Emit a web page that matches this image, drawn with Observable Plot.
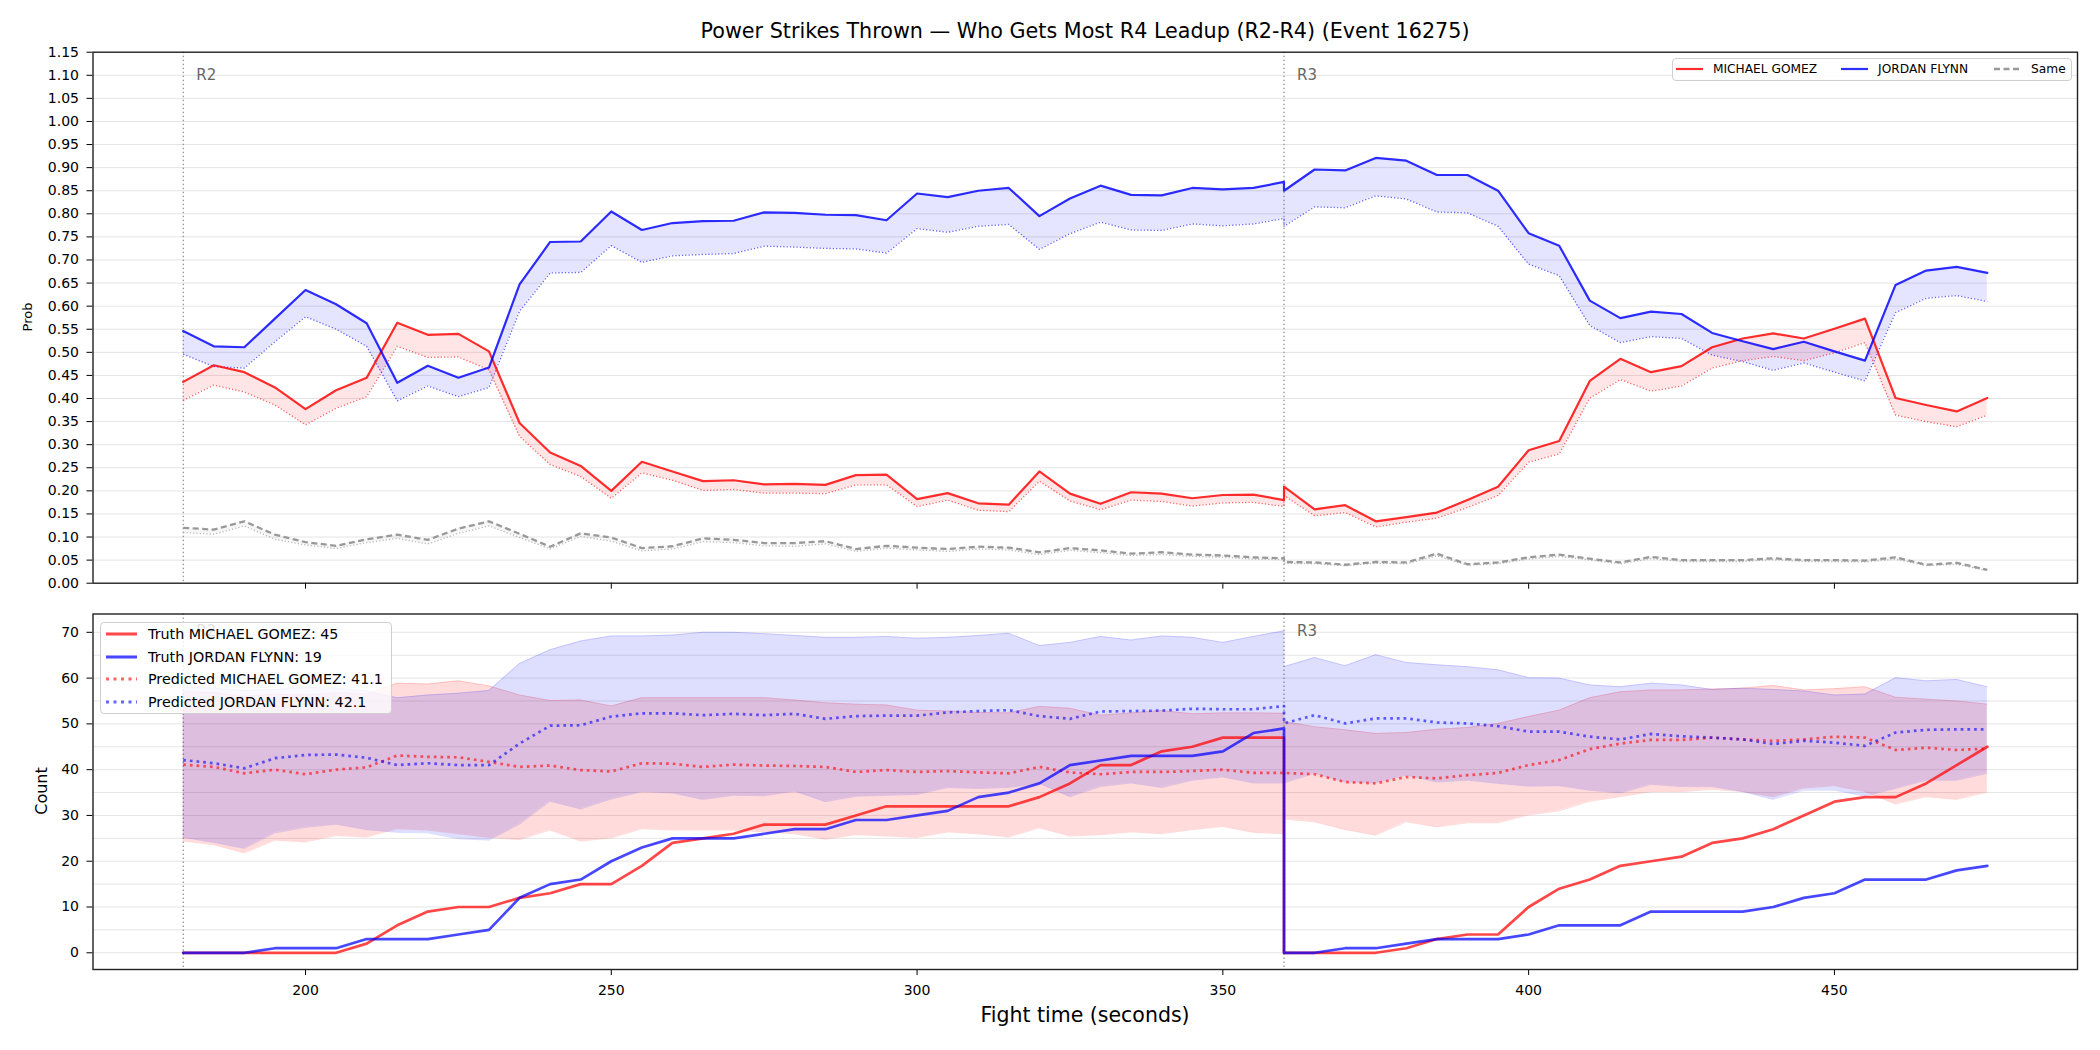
<!DOCTYPE html>
<html><head><meta charset="utf-8">
<script src="https://cdn.jsdelivr.net/npm/d3@7"></script>
<script src="https://cdn.jsdelivr.net/npm/@observablehq/plot@0.6"></script>
<style>
html,body{margin:0;padding:0;background:#fff;overflow:hidden}
#root{position:relative;width:2100px;height:1050px;font-family:"DejaVu Sans",sans-serif;color:#000;overflow:hidden;background:#fff}
.abs{position:absolute}
.rot{position:absolute;transform:translate(-50%,-50%) rotate(-90deg);white-space:nowrap}
.ctr{position:absolute;transform:translate(-50%,-50%);white-space:nowrap}
.leg{position:absolute;box-sizing:border-box;border:1px solid #cfcfcf;border-radius:4px;background:rgba(255,255,255,0.8)}
.row{display:flex;align-items:center;white-space:nowrap}
.row svg{display:block;flex:none}
</style></head><body><div id="root"></div>
<script>
// ---------- data ----------
const times = [180,185,190,195,200,205,210,215,220,225,230,235,240,245,250,255,260,265,270,275,280,285,290,295,300,305,310,315,320,325,330,335,340,345,350,355,360,
               360,365,370,375,380,385,390,395,400,405,410,415,420,425,430,435,440,445,450,455,460,465,470,475];

const probRed  = [.436,.472,.457,.424,.377,.418,.445,.564,.538,.540,.502,.347,.283,.254,.200,.263,.242,.221,.223,.214,.215,.213,.234,.235,.182,.195,.173,.170,.242,.194,.172,.197,.194,.184,.191,.192,.180,
                  .209,.160,.169,.134,.143,.153,.180,.209,.288,.308,.438,.486,.457,.470,.511,.530,.541,.530,.551,.573,.401,.386,.372,.401];
const predRed  = [.396,.429,.414,.386,.343,.379,.404,.513,.489,.490,.462,.318,.257,.231,.184,.239,.223,.201,.203,.195,.195,.194,.213,.213,.166,.180,.158,.155,.221,.178,.159,.180,.177,.167,.174,.175,.166,
                  .190,.146,.153,.122,.132,.141,.164,.190,.262,.280,.401,.441,.416,.427,.466,.482,.491,.482,.499,.521,.364,.350,.339,.364];
const probBlue = [.546,.513,.511,.573,.635,.604,.563,.434,.471,.445,.467,.647,.739,.740,.805,.765,.780,.784,.785,.803,.802,.798,.797,.786,.844,.836,.850,.856,.795,.833,.861,.841,.840,.856,.853,.856,.869,
                  .850,.896,.894,.921,.915,.884,.884,.850,.758,.731,.612,.574,.588,.583,.542,.524,.507,.523,.502,.482,.646,.677,.685,.672];
const predBlue = [.496,.469,.466,.523,.577,.550,.513,.395,.427,.404,.424,.589,.672,.673,.731,.695,.709,.712,.714,.730,.728,.725,.724,.715,.768,.760,.773,.777,.723,.757,.782,.765,.764,.778,.774,.778,.790,
                  .773,.815,.813,.839,.832,.804,.802,.773,.691,.666,.558,.521,.534,.530,.494,.480,.461,.477,.457,.438,.586,.617,.623,.610];
const probSame = [.120,.116,.134,.105,.089,.081,.095,.105,.094,.118,.134,.107,.079,.108,.099,.076,.080,.097,.094,.087,.087,.091,.074,.081,.077,.074,.079,.077,.067,.076,.071,.064,.067,.062,.060,.056,.054,
                  .046,.045,.040,.046,.045,.064,.041,.045,.056,.062,.053,.045,.057,.050,.050,.050,.054,.050,.050,.049,.056,.040,.044,.029];
const predSame = [.110,.106,.124,.095,.083,.075,.088,.097,.085,.108,.124,.099,.074,.101,.091,.070,.074,.090,.088,.081,.080,.085,.069,.076,.072,.069,.074,.072,.062,.071,.066,.060,.062,.058,.056,.052,.051,
                  .043,.042,.038,.043,.042,.059,.039,.042,.052,.058,.050,.042,.053,.047,.047,.047,.051,.047,.047,.046,.052,.038,.041,.027];

const truthRed  = [0,0,0,0,0,0,2,6,9,10,10,12,13,15,15,19,24,25,26,28,28,28,30,32,32,32,32,32,34,37,41,41,44,45,47,47,47,
                   0,0,0,0,1,3,4,4,10,14,16,19,20,21,24,25,27,30,33,34,34,37,41,45];
const truthBlue = [0,0,0,1,1,1,3,3,3,4,5,12,15,16,20,23,25,25,25,26,27,27,29,29,30,31,34,35,37,41,42,43,43,43,44,48,49,
                   0,0,1,1,2,3,3,3,4,6,6,6,9,9,9,9,10,12,13,16,16,16,18,19];
const predCountRed  = [41.1,40.6,39.2,40.0,39.0,40.0,40.5,43.1,42.8,42.7,41.7,40.6,40.9,39.9,39.6,41.4,41.3,40.6,41.1,40.9,40.8,40.6,39.5,39.9,39.5,39.7,39.4,39.2,40.6,39.4,39.0,39.5,39.5,39.7,40.0,39.3,39.3,
                       39.3,39.0,37.3,37.0,38.4,38.1,38.8,39.3,41.0,42.1,44.5,45.7,46.5,46.5,47.0,46.6,46.3,46.6,47.2,47.0,44.3,44.8,44.3,44.6];
const predCountBlue = [42.1,41.4,40.3,42.5,43.2,43.3,42.6,41.0,41.4,41.0,41.0,45.7,49.6,49.7,51.6,52.3,52.3,51.9,52.2,51.9,52.2,51.1,51.7,51.8,51.8,52.5,52.8,53.0,51.7,51.1,52.7,52.8,52.9,53.3,53.2,53.2,53.9,
                       50.1,51.9,50.1,51.2,51.2,50.3,50.1,49.5,48.3,48.3,47.2,46.6,47.8,47.3,47.0,46.6,45.6,46.3,45.9,45.2,48.1,48.7,48.8,48.8];
const bandRedHi  = [57.0,56.8,56.0,56.5,56.3,56.8,56.5,58.9,58.7,59.4,58.3,56.3,55.1,55.2,53.9,55.7,55.7,55.7,55.7,55.7,55.2,54.6,54.3,54.1,53.0,52.8,52.5,52.4,53.8,53.4,51.9,52.4,52.9,52.2,52.4,52.4,52.3,
                    50.5,49.4,48.7,47.9,48.1,48.8,49.2,50.1,51.6,53.0,55.7,57.0,57.4,57.4,57.6,57.8,58.4,57.4,57.7,58.1,55.8,55.4,55.0,54.3];
const bandRedLo  = [24.4,23.6,21.8,24.6,24.2,25.6,25.3,27.1,26.8,26.0,25.2,24.7,26.8,24.4,25.1,27.1,26.8,26.8,26.8,26.4,26.0,24.8,25.8,25.5,25.2,26.4,26.0,25.3,27.3,25.5,25.8,26.4,26.0,26.9,27.6,26.3,26.0,
                    29.2,28.6,26.9,25.7,28.6,27.5,28.4,28.4,30.1,31.0,33.1,34.1,35.2,35.2,35.7,35.2,34.1,36.0,36.5,35.2,32.5,34.1,33.5,35.1];
const bandBlueHi = [58.0,57.8,57.3,57.5,58.0,57.8,57.2,55.7,56.3,56.7,57.3,63.2,66.2,68.1,69.2,69.2,69.4,70.0,70.0,69.7,69.3,68.9,68.9,69.1,68.7,68.9,69.3,69.8,67.1,67.8,69.1,68.3,69.2,68.9,67.8,69.1,70.3,
                    62.5,64.5,62.7,65.1,63.4,62.9,62.5,61.8,60.1,60.0,58.5,58.1,58.9,58.5,57.5,57.8,57.5,57.2,56.3,56.5,60.1,59.4,59.7,58.1];
const bandBlueLo = [25.2,24.1,22.8,26.2,27.4,28.1,26.9,26.3,26.2,24.9,24.6,28.1,33.1,31.4,33.6,35.2,34.9,33.5,34.4,34.3,35.3,33.0,34.2,34.4,34.6,36.1,35.9,36.1,37.0,34.1,36.3,37.1,36.1,37.7,38.4,37.1,37.1,
                    37.1,39.2,37.3,37.1,38.8,37.3,37.7,37.0,36.4,36.5,35.5,34.9,36.8,36.3,36.3,35.2,33.5,35.5,35.5,34.2,35.9,37.7,37.7,39.2];

const roundStarts = [180, 360];
const roundNames  = ["R2", "R3"];
const xTicks = [200, 250, 300, 350, 400, 450];
const probTicks = [0,0.05,0.10,0.15,0.20,0.25,0.30,0.35,0.40,0.45,0.50,0.55,0.60,0.65,0.70,0.75,0.80,0.85,0.90,0.95,1.00,1.05,1.10,1.15];
const countTicks = [0,10,20,30,40,50,60,70];
const countGrid = [0,5,10,15,20,25,30,35,40,45,50,55,60,65,70];

const fighterA = "MICHAEL GOMEZ", fighterB = "JORDAN FLYNN";
const title = "Power Strikes Thrown — Who Gets Most R4 Leadup (R2-R4) (Event 16275)";

// ---------- build ----------
const rows = times.map((t, i) => ({
  t, probRed: probRed[i], predRed: predRed[i], probBlue: probBlue[i], predBlue: predBlue[i],
  probSame: probSame[i], predSame: predSame[i],
  truthRed: truthRed[i], truthBlue: truthBlue[i], pcRed: predCountRed[i], pcBlue: predCountBlue[i],
  rHi: bandRedHi[i], rLo: bandRedLo[i], bHi: bandBlueHi[i], bLo: bandBlueLo[i]
}));

const RED = "#ff0000", BLUE = "#0000ff";
const xDomain = [165.25, 489.75];
const baseStyle = {fontFamily: "DejaVu Sans, sans-serif", fontSize: "14px", background: "transparent", overflow: "visible", color: "#000"};

const topPlot = Plot.plot({
  width: 2100, height: 600,
  marginLeft: 92.5, marginRight: 23, marginTop: 51.7, marginBottom: 17.3,
  style: baseStyle,
  x: {domain: xDomain, ticks: xTicks, tickSize: 6, tickFormat: () => "", label: null},
  y: {domain: [0, 1.15], ticks: probTicks, tickSize: 6, tickPadding: 8, tickFormat: d3.format(".2f"), label: null},
  marks: [
    Plot.ruleY(probTicks.slice(1, -1), {stroke: "#e4e4e4", strokeWidth: 1}),
    Plot.ruleX(roundStarts, {stroke: "#777", strokeWidth: 1, strokeDasharray: "1.5,2.5"}),
    Plot.text(roundStarts, {x: d => d, y: 1.10, text: (d, i) => roundNames[i], dx: 13, textAnchor: "start", fill: "#666", fontSize: 15}),
    Plot.areaY(rows, {x: "t", y1: "predRed", y2: "probRed", fill: RED, fillOpacity: 0.1}),
    Plot.areaY(rows, {x: "t", y1: "predBlue", y2: "probBlue", fill: BLUE, fillOpacity: 0.1}),
    Plot.areaY(rows, {x: "t", y1: "predSame", y2: "probSame", fill: "#888", fillOpacity: 0.08}),
    Plot.line(rows, {x: "t", y: "predRed", stroke: RED, strokeOpacity: 0.6, strokeWidth: 1.3, strokeDasharray: "1.3,2", strokeLinecap: "butt"}),
    Plot.line(rows, {x: "t", y: "predBlue", stroke: BLUE, strokeOpacity: 0.6, strokeWidth: 1.3, strokeDasharray: "1.3,2", strokeLinecap: "butt"}),
    Plot.line(rows, {x: "t", y: "predSame", stroke: "#aaa", strokeOpacity: 0.8, strokeWidth: 1.3, strokeDasharray: "1.3,2", strokeLinecap: "butt"}),
    Plot.line(rows, {x: "t", y: "probRed", stroke: RED, strokeOpacity: 0.82, strokeWidth: 2.2, strokeLinejoin: "round"}),
    Plot.line(rows, {x: "t", y: "probBlue", stroke: BLUE, strokeOpacity: 0.82, strokeWidth: 2.2, strokeLinejoin: "round"}),
    Plot.line(rows, {x: "t", y: "probSame", stroke: "#999", strokeWidth: 2.3, strokeDasharray: "6,3.5", strokeLinecap: "butt"}),
    Plot.frame({stroke: "#222", strokeWidth: 1.4})
  ]
});

const botPlot = Plot.plot({
  width: 2100, height: 450,
  marginLeft: 92.5, marginRight: 23, marginTop: 13.5, marginBottom: 81,
  style: baseStyle,
  x: {domain: xDomain, ticks: xTicks, tickSize: 6, tickPadding: 10, label: null},
  y: {domain: [-3.65, 74], ticks: countTicks, tickSize: 6, tickPadding: 8, label: null},
  marks: [
    Plot.ruleY(countGrid, {stroke: "#e4e4e4", strokeWidth: 1}),
    Plot.ruleX(roundStarts, {stroke: "#777", strokeWidth: 1, strokeDasharray: "1.5,2.5"}),
    Plot.text(roundStarts, {x: d => d, y: 70.3, text: (d, i) => roundNames[i], dx: 13, textAnchor: "start", fill: "#666", fontSize: 15}),
    Plot.areaY(rows, {x: "t", y1: "rLo", y2: "rHi", fill: RED, fillOpacity: 0.14}),
    Plot.line(rows, {x: "t", y: "rLo", stroke: RED, strokeOpacity: 0.14, strokeWidth: 1}),
    Plot.line(rows, {x: "t", y: "rHi", stroke: RED, strokeOpacity: 0.14, strokeWidth: 1}),
    Plot.areaY(rows, {x: "t", y1: "bLo", y2: "bHi", fill: BLUE, fillOpacity: 0.13}),
    Plot.line(rows, {x: "t", y: "bLo", stroke: BLUE, strokeOpacity: 0.13, strokeWidth: 1}),
    Plot.line(rows, {x: "t", y: "bHi", stroke: BLUE, strokeOpacity: 0.13, strokeWidth: 1}),
    Plot.line(rows, {x: "t", y: "pcRed", stroke: RED, strokeOpacity: 0.6, strokeWidth: 2.7, strokeDasharray: "2.7,4", strokeLinecap: "butt"}),
    Plot.line(rows, {x: "t", y: "pcBlue", stroke: BLUE, strokeOpacity: 0.6, strokeWidth: 2.7, strokeDasharray: "2.7,4", strokeLinecap: "butt"}),
    Plot.line(rows, {x: "t", y: "truthRed", stroke: RED, strokeOpacity: 0.72, strokeWidth: 2.7, strokeLinejoin: "round"}),
    Plot.line(rows, {x: "t", y: "truthBlue", stroke: BLUE, strokeOpacity: 0.72, strokeWidth: 2.7, strokeLinejoin: "round"}),
    Plot.frame({stroke: "#222", strokeWidth: 1.4})
  ]
});

// ---------- page ----------
const root = document.getElementById("root");
function place(node, left, top) { node.style.position = "absolute"; node.style.left = left + "px"; node.style.top = top + "px"; root.appendChild(node); return node; }
place(topPlot, 0, 0);
place(botPlot, 0, 600);

function div(cls, text, css) { const d = document.createElement("div"); d.className = cls; if (text != null) d.textContent = text; Object.assign(d.style, css || {}); root.appendChild(d); return d; }
div("ctr", title, {left: "1085px", top: "31px", fontSize: "20.7px"});
div("ctr", "Fight time (seconds)", {left: "1085px", top: "1015px", fontSize: "20.5px"});
div("rot", "Prob", {left: "27px", top: "317px", fontSize: "13px"});
div("rot", "Count", {left: "41px", top: "791px", fontSize: "16px"});

function handle(w, color, opacity, width, dash) {
  const ns = "http://www.w3.org/2000/svg";
  const s = document.createElementNS(ns, "svg");
  s.setAttribute("width", w); s.setAttribute("height", 10);
  const l = document.createElementNS(ns, "line");
  l.setAttribute("x1", 0); l.setAttribute("x2", w); l.setAttribute("y1", 5); l.setAttribute("y2", 5);
  l.setAttribute("stroke", color); l.setAttribute("stroke-opacity", opacity); l.setAttribute("stroke-width", width);
  if (dash) l.setAttribute("stroke-dasharray", dash);
  s.appendChild(l);
  return s;
}

// top legend
const leg1 = div("leg", null, {left: "1672px", top: "58px", width: "400px", height: "22.5px", display: "flex", alignItems: "center", paddingLeft: "3px", fontSize: "12.2px"});
[[fighterA, RED, 0.82, 2.2, null, 24], [fighterB, BLUE, 0.82, 2.2, null, 26], ["Same", "#999", 1, 2.3, "6,3.5", 0]].forEach(([lab, c, o, w, dsh, gap]) => {
  const h = handle(27, c, o, w, dsh); h.style.marginRight = "10px"; h.style.flex = "none"; leg1.appendChild(h);
  const s = document.createElement("span"); s.textContent = lab; s.style.marginRight = gap + "px"; s.style.whiteSpace = "nowrap"; leg1.appendChild(s);
});

// bottom legend
const leg2 = div("leg", null, {left: "100px", top: "621.7px", width: "292px", height: "92.6px", paddingLeft: "5px", fontSize: "14.3px"});
[["Truth " + fighterA + ": " + truthRed[truthRed.length - 1], RED, 0.72, 3, null],
 ["Truth " + fighterB + ": " + truthBlue[truthBlue.length - 1], BLUE, 0.72, 3, null],
 ["Predicted " + fighterA + ": " + predCountRed[0].toFixed(1), RED, 0.6, 3, "3,4.5"],
 ["Predicted " + fighterB + ": " + predCountBlue[0].toFixed(1), BLUE, 0.6, 3, "3,4.5"]].forEach(([lab, c, o, w, dsh]) => {
  const r = document.createElement("div"); r.className = "row"; r.style.height = "22.6px";
  const h = handle(31, c, o, w, dsh); h.style.marginRight = "11px"; r.appendChild(h);
  const s = document.createElement("span"); s.textContent = lab; r.appendChild(s);
  leg2.appendChild(r);
});
</script></body></html>
